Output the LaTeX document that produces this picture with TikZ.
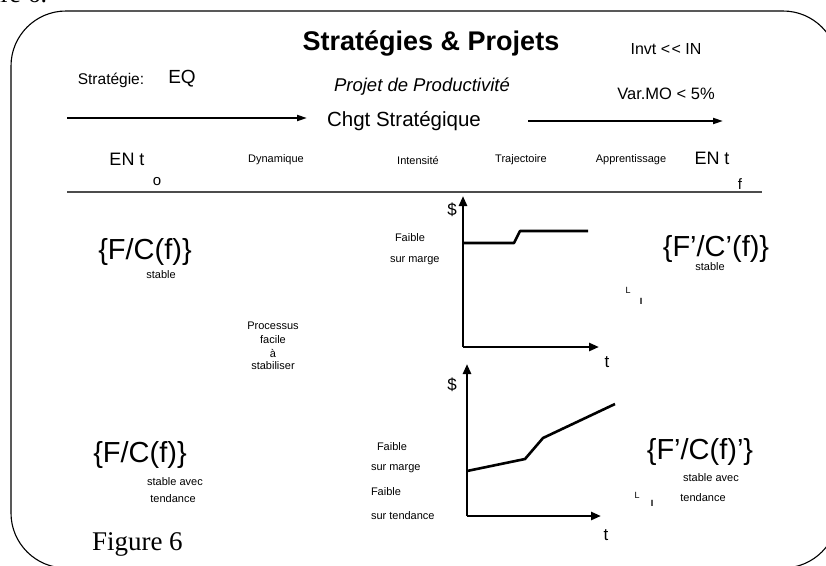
\documentclass[tikz,border=0pt]{standalone}
\usepackage{fontspec}
\setmainfont{Liberation Sans}
\newfontfamily\figfont{Liberation Serif}
\usetikzlibrary{arrows.meta}
\newcommand\fsz[1]{\fontsize{#1}{#1}\selectfont}
\begin{document}
\begin{tikzpicture}[x=1pt,y=-1pt,
  every node/.style={inner sep=0pt,outer sep=0pt},
  txt/.style={anchor=center},
  lbl/.style={anchor=center,font=\fsz{11}},
  bigset/.style={anchor=center,font=\fsz{29}},
  hdr/.style={line width=1.8pt,-{Triangle[length=10pt,width=6pt]}},
  axis/.style={line width=2.6pt,-{Triangle[length=10pt,width=8pt]}},
  curve/.style={line width=2.6pt,line join=round}]
\useasboundingbox (0,0) rectangle (826,565);
\clip (0,0) rectangle (826,565);

% frame
\draw[line width=1.1pt,rounded corners=55pt] (11,11) rectangle (838,568);
\node[anchor=base east,font=\figfont\fsz{26}] (capprev) at (47,2) {Figure 6.};

% header
\node[txt,font=\bfseries\fsz{27}] (title) at (431,43) {Stratégies \& Projets};
\node[txt,font=\fsz{16}] (invt) at (666,49) {Invt <\kern1.5pt< IN};
\node[txt,font=\fsz{15.5}] (strat) at (111,80) {Stratégie:};
\node[txt,font=\fsz{19}] (eq) at (182,79) {EQ};
\node[txt,font=\itshape\fsz{18.5}] (projet) at (422,87) {Projet de Productivité};
\node[txt,font=\fsz{16.5}] (varmo) at (666,94) {Var.MO < 5\%};
\node[txt,font=\fsz{20.5}] (chgt) at (404,121) {Chgt Stratégique};
\coordinate (a1s) at (67,118);
\coordinate (a1e) at (307,118);
\coordinate (a2s) at (528,121);
\coordinate (a2e) at (723,121);
\draw[hdr] (a1s) -- (a1e);
\draw[hdr] (a2s) -- (a2e);

\node[txt,font=\fsz{18}] (ent0) at (127,159) {EN t};
\node[txt,font=\fsz{15}] (sub0) at (157,182) {o};
\node[lbl] (dyn) at (276,160) {Dynamique};
\node[lbl] (int) at (418,160) {Intensité};
\node[lbl] (traj) at (521,160) {Trajectoire};
\node[lbl] (appr) at (631,160) {Apprentissage};
\node[txt,font=\fsz{18}] (entf) at (712,158) {EN t};
\node[txt,font=\fsz{15}] (subf) at (740,184) {f};
\coordinate (rs) at (67,192);
\coordinate (re) at (762,192);
\draw[line width=1.1pt,black!70] (rs) -- (re);

% first row
\node[bigset] (fc1) at (145,252) {\{F/C(f)\}};
\node[lbl] (st1) at (161,275) {stable};
\node[lbl] (pr1) at (273,326) {Processus};
\node[lbl] (pr2) at (273,340) {facile};
\node[lbl] (pr3) at (273,353) {à};
\node[lbl] (pr4) at (273,366) {stabiliser};
\node[lbl,anchor=west] (fa1) at (395,238) {Faible};
\node[lbl,anchor=west] (sm1) at (390,261) {sur marge};

\coordinate (o1) at (463,347);
\coordinate (y1) at (463,196);
\coordinate (x1) at (599,347);
\draw[axis] (o1) -- (y1);
\draw[axis] (o1) -- (x1);
\coordinate (c1a) at (463,243);
\coordinate (c1b) at (514,243);
\coordinate (c1c) at (520,231);
\coordinate (c1d) at (588,231);
\draw[curve] (c1a) -- (c1b) -- (c1c) -- (c1d);
\node[txt,font=\fsz{17}] (d1) at (452,210) {\$};
\node[txt,font=\fsz{17}] (t1) at (607,362) {t};

\node[bigset] (fc2) at (716,249) {\{F’/C’(f)\}};
\node[lbl] (st2) at (710,267) {stable};
\node[txt,font=\fsz{9}] (l1) at (628,290) {L};
\node[txt,font=\bfseries\fsz{9}] (i1) at (641,301) {I};

% second row
\node[bigset] (fc3) at (140,455) {\{F/C(f)\}};
\node[lbl] (st3) at (175,482) {stable avec};
\node[lbl] (td3) at (173,499) {tendance};
\node[lbl,anchor=west] (fa2) at (377,447) {Faible};
\node[lbl,anchor=west] (sm2) at (371,469) {sur marge};
\node[lbl,anchor=west] (fa3) at (371,492) {Faible};
\node[lbl,anchor=west] (st4) at (371,516) {sur tendance};

\coordinate (o2) at (467,516);
\coordinate (y2) at (467,364);
\coordinate (x2) at (601,516);
\draw[axis] (o2) -- (y2);
\draw[axis] (o2) -- (x2);
\coordinate (c2a) at (467,471);
\coordinate (c2b) at (525,459);
\coordinate (c2c) at (543,438);
\coordinate (c2d) at (615,404);
\draw[curve] (c2a) -- (c2b) -- (c2c) -- (c2d);
\node[txt,font=\fsz{17}] (d2) at (452,385) {\$};
\node[txt,font=\fsz{17}] (t2) at (606,535) {t};

\node[bigset] (fc4) at (700,452) {\{F’/C(f)’\}};
\node[lbl] (st5) at (711,478) {stable avec};
\node[lbl] (td5) at (703,498) {tendance};
\node[txt,font=\fsz{9}] (l2) at (637,495) {L};
\node[txt,font=\bfseries\fsz{9}] (i2) at (652,503) {I};

\node[anchor=base west,font=\figfont\fsz{27}] (fig) at (92,550) {Figure 6};
\end{tikzpicture}
\end{document}
